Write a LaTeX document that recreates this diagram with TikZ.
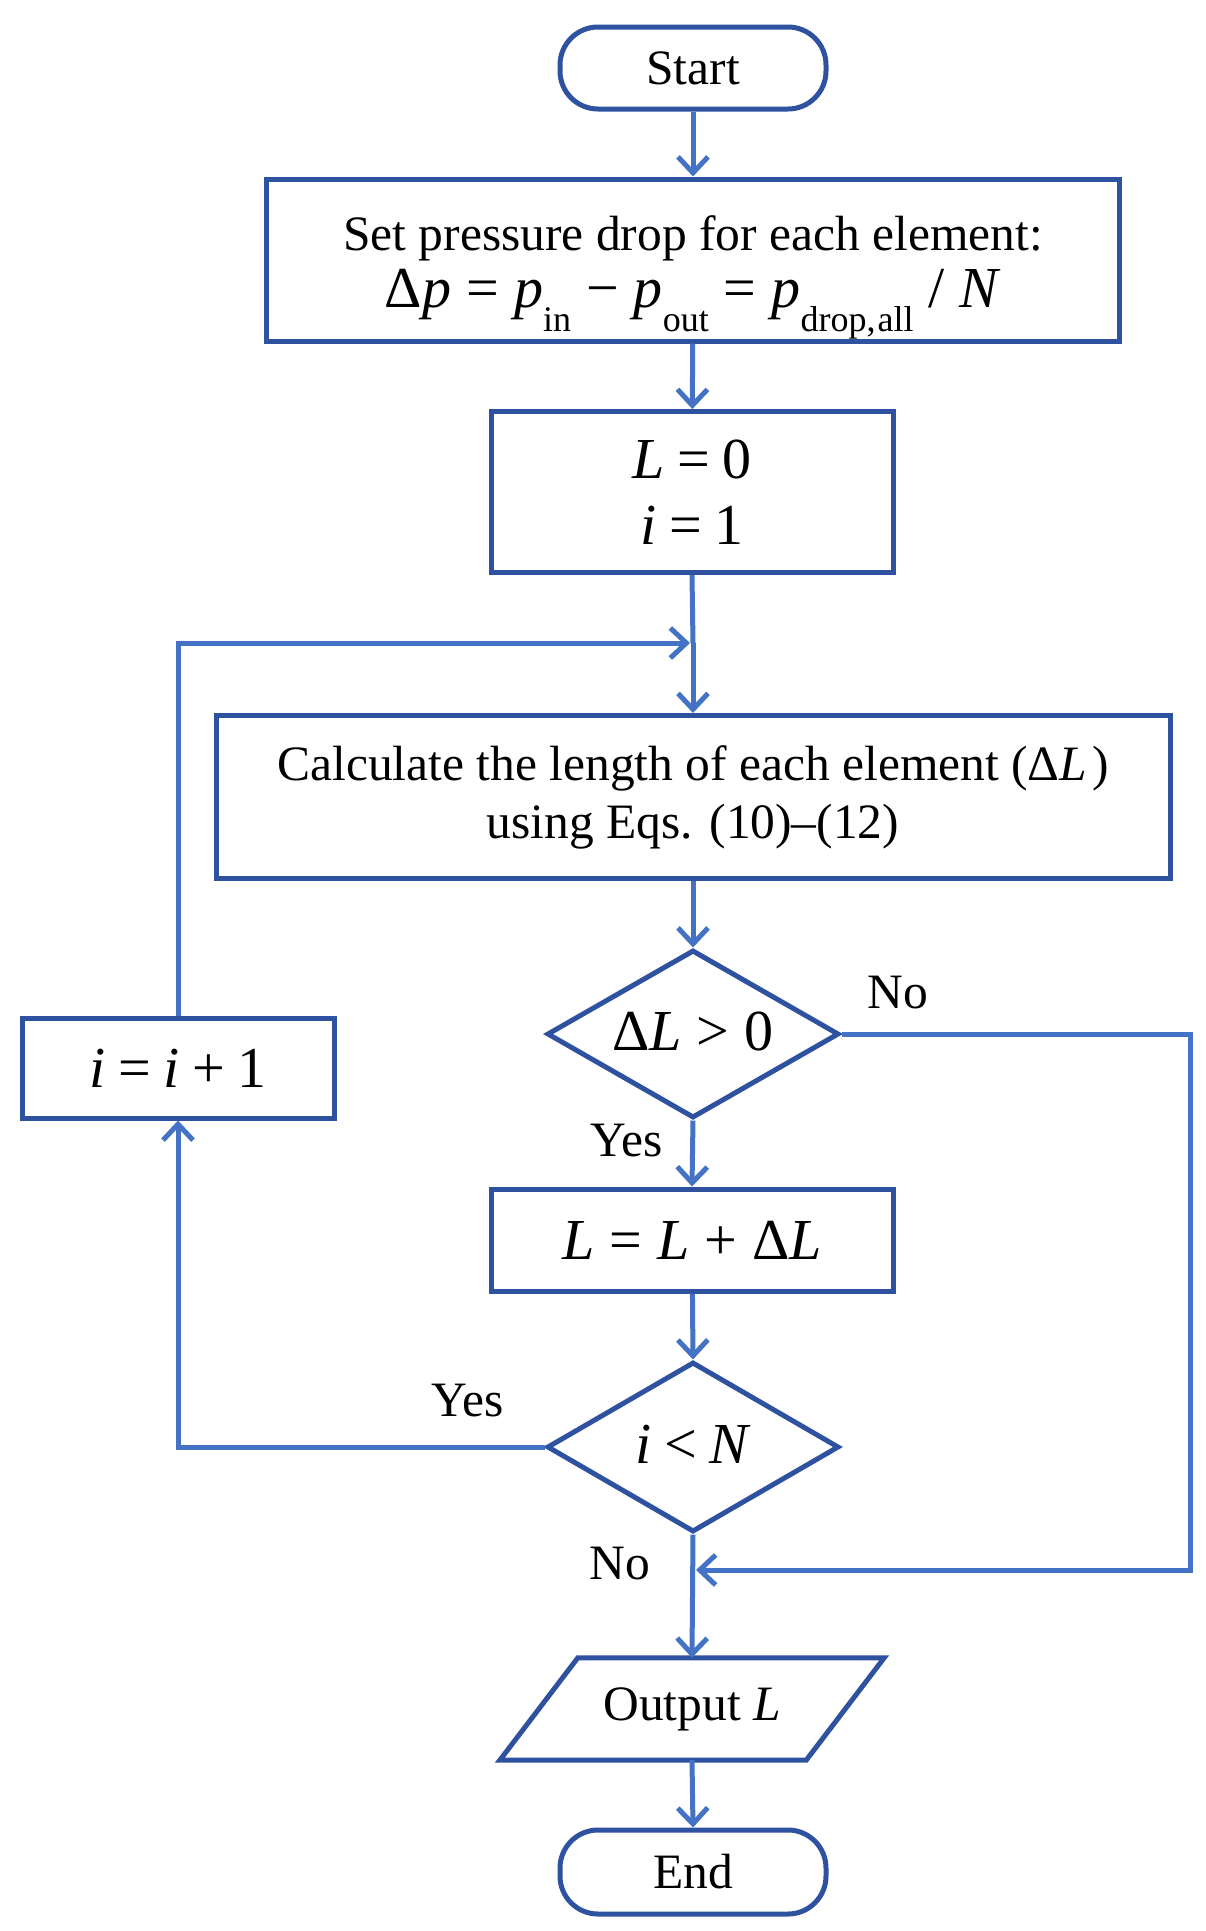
\documentclass[tikz,border=0pt]{standalone}
\usepackage{fontspec}
\setmainfont{Liberation Serif}
\usetikzlibrary{shapes.geometric,arrows.meta}
\definecolor{boxblue}{HTML}{2F52A0}
\definecolor{lineblue}{HTML}{4472C4}
\newcommand\subx[1]{\raisebox{-0.42em}{\fontsize{36}{36}\selectfont #1}}
\newcommand\gp{\hspace{0.22em}}
\newcommand\gq{\hspace{0.26em}}
\newcommand\mth{\fontsize{58}{66}\selectfont}
\begin{document}
\begin{tikzpicture}[x=1pt,y=-1pt,
  base/.style={draw=boxblue,line width=5pt,inner sep=0pt,align=center,font=\fontsize{49.5}{58}\selectfont},
  procbox/.style={base,rectangle},
  termbox/.style={base,rectangle,rounded corners=38pt},
  decbox/.style={base,diamond},
  txt/.style={inner sep=0pt,anchor=base,font=\fontsize{49.5}{58}\selectfont},
  mtxt/.style={inner sep=0pt,anchor=base,font=\mth},
  arr/.style={draw=lineblue,line width=5pt,-{Straight Barb[length=16pt,width=30pt,line width=5pt]}},
  ln/.style={draw=lineblue,line width=5pt},
  lbl/.style={inner sep=0pt,font=\fontsize{49.5}{58}\selectfont}]
\useasboundingbox (0,0) rectangle (1206,1931);
\node[termbox,minimum width=266pt,minimum height=82pt] (start) at (693,68) {Start};
\node[procbox,minimum width=853pt,minimum height=162pt] (box1) at (693,260) {};
\node[txt] (box1a) at (693,250) {Set pressure drop for each element:};
\node[mtxt] (box1b) at (693,307)
  {Δ\textit{p}\gq{}=\gq\textit{p}\subx{in}\gq{}−\gq\textit{p}\subx{out}\gq{}=\gq\textit{p}\subx{drop,\hspace{0.05em}all}\gq{}/\gq\textit{N}};
\node[procbox,minimum width=402pt,minimum height=161pt,font=\mth] (box2) at (692,492)
  {\textit{L}\gp{}=\gp{}0\\ \textit{i}\gp{}=\gp{}1};
\coordinate (join) at (693,643);
\node[procbox,minimum width=954pt,minimum height=163pt] (box3) at (693,797)
  {Calculate the length of each element (Δ\textit{L}\hspace{0.1em})\\ using Eqs. (10)–(12)};
\node[decbox,minimum width=292pt,minimum height=168pt] (d1) at (693,1034) {};
\node[mtxt] (d1t) at (693,1050) {Δ\textit{L}\gq{}>\gq{}0};
\node[procbox,minimum width=402pt,minimum height=102pt,font=\mth] (box4) at (692,1240)
  {\textit{L}\gq{}=\gq\textit{L}\gq{}+\gq{}Δ\textit{L}};
\node[decbox,minimum width=292pt,minimum height=170pt] (d2) at (693,1447) {};
\node[mtxt] (d2t) at (693,1463) {\textit{i}\gp{}<\gp\textit{N}};
\node[procbox,minimum width=312pt,minimum height=100pt,font=\mth] (box5) at (178,1068)
  {\textit{i}\gp{}=\gp\textit{i}\gp{}+\gp{}1};
\node[rectangle,inner sep=0pt,minimum width=306pt,minimum height=102pt,font=\fontsize{49.5}{58}\selectfont] (out) at (692,1709)
  {Output \textit{L}};
\draw[draw=boxblue,line width=5pt,line join=miter]
  ([xshift=39pt]out.north west) -- ([xshift=39pt]out.north east) --
  ([xshift=-39pt]out.south east) -- ([xshift=-39pt]out.south west) -- cycle;
\node[termbox,minimum width=266pt,minimum height=84pt] (end) at (693,1872) {End};
\coordinate (merge) at (693,1570);
\coordinate (rt) at (1190,1034);
% connectors
\draw[arr] (start) -- (box1);
\draw[arr] (box1) -- (box2);
\draw[ln] (box2.south) -- (join);
\draw[arr] (join) -- (box3.north);
\draw[arr] (box5.north) |- ([xshift=-3pt]join);
\draw[arr] (box3) -- (d1);
\draw[arr] (d1.south) -- (box4.north);
\draw[arr] (box4) -- (d2.north);
\draw[arr] (d2.west) -| (box5.south);
\draw[arr] (d1.east) -- (rt) |- ([xshift=3pt]merge);
\draw[arr] (d2.south) -- (out.north);
\draw[arr] (out.south) -- (end.north);
% labels
\node[lbl] (no1) at (898,993) {No};
\node[lbl] (yes1) at (627,1141) {Yes};
\node[lbl] (yes2) at (468,1401) {Yes};
\node[lbl] (no2) at (620,1564) {No};
\end{tikzpicture}
\end{document}
